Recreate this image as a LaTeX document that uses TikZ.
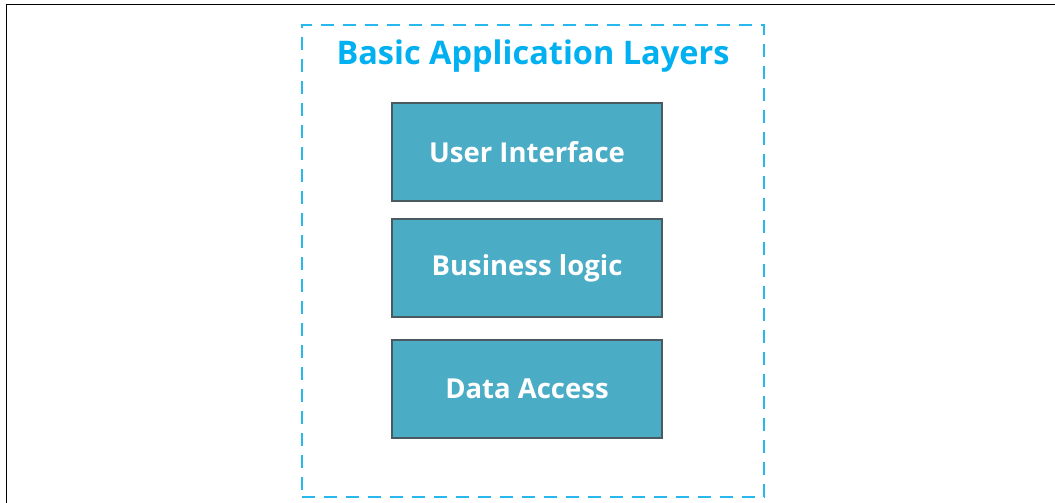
\documentclass[tikz,border=0pt]{standalone}
\usepackage{fontspec}
\setmainfont{Open Sans}
\definecolor{dashblue}{HTML}{29B8EE}
\definecolor{titleblue}{HTML}{00B0F0}
\definecolor{layerfill}{HTML}{4BACC6}
\definecolor{layerdraw}{HTML}{4A5A60}
\tikzset{
  layerbox/.style={draw=layerdraw, line width=1.2pt, fill=layerfill, minimum width=270pt, minimum height=98pt, inner sep=0pt, text=white, font=\fontsize{27.5}{30}\selectfont\bfseries},
  frameline/.style={line width=1.8pt, black},
}
\begin{document}
\begin{tikzpicture}[x=1pt, y=-1pt]
\useasboundingbox (0,0) rectangle (1055,503);
\fill[white] (0,0) rectangle (1055,503);
\coordinate (tl) at (6.5,4.5);
\coordinate (tr) at (1055,4.5);
\coordinate (bl) at (6.5,503);
\draw[frameline] (tr) -- (tl) -- (bl);
\node[draw=dashblue, line width=2pt, dash pattern=on 13pt off 9pt, minimum width=462pt, minimum height=472pt, inner sep=0pt] (frame) at (533,261) {};
\node[text=titleblue, font=\fontsize{32.5}{36}\selectfont\bfseries, anchor=base, inner sep=0pt] (title) at (533,65) {Basic Application Layers};
\node[layerbox] (ui) at (527,152) {User Interface};
\node[layerbox] (bl) at (527,268) {Business logic};
\node[layerbox] (da) at (527,389) {Data Access};
\end{tikzpicture}
\end{document}
